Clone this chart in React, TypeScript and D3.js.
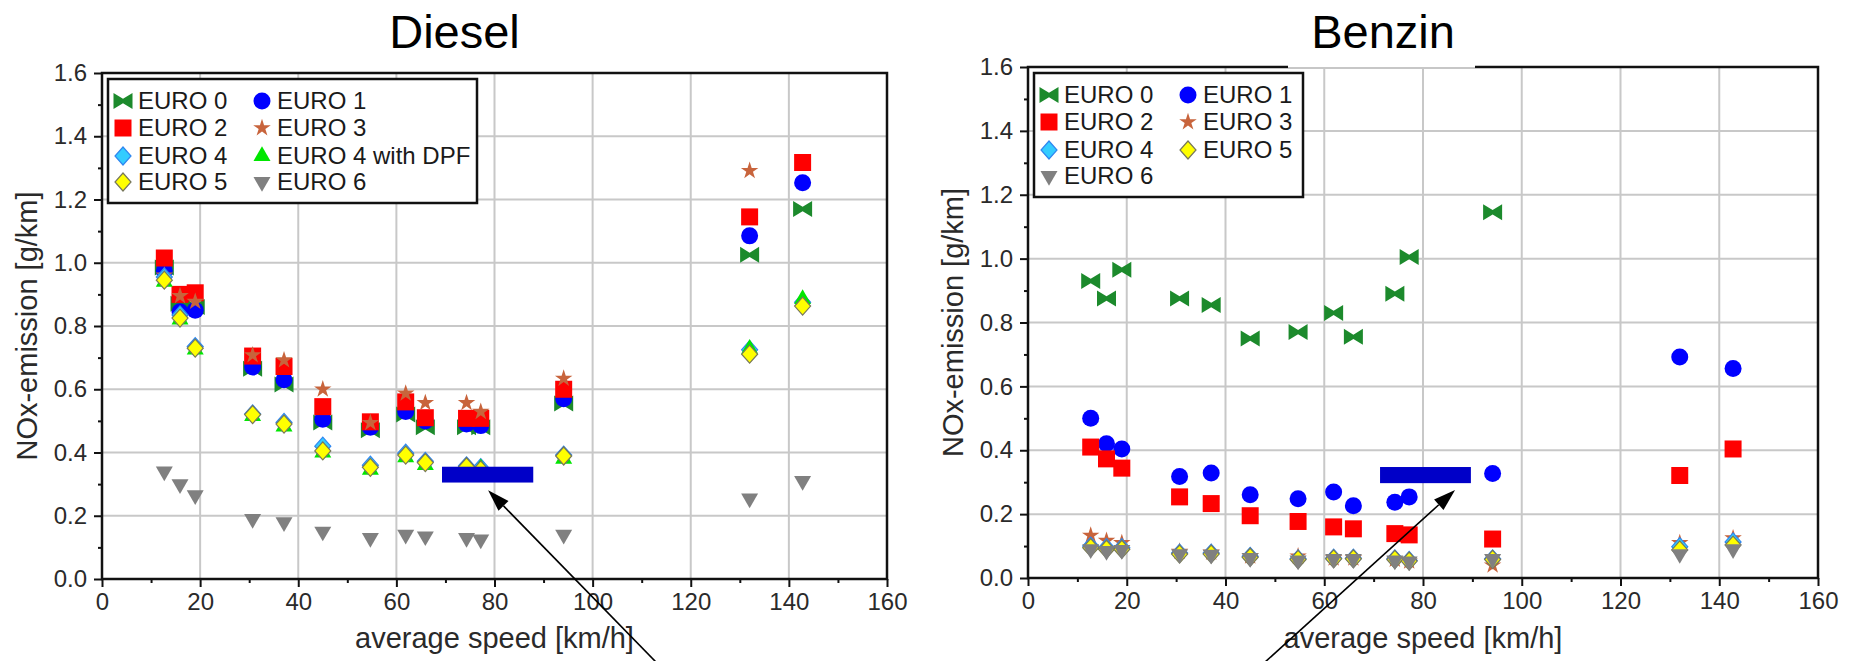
import React, { useEffect, useRef } from 'react';
import * as d3 from 'd3';

// average speed of the driving cycles [km/h]
const speeds = [12.7, 15.9, 19.0, 30.7, 37.1, 45.0, 54.7, 61.9, 65.9, 74.3, 77.2, 94.1, 132.0, 142.8];

// Diesel NOx [g/km]
const dieselEuro0 = [0.985, 0.87, 0.86, 0.665, 0.615, 0.495, 0.47, 0.52, 0.48, 0.48, 0.48, 0.555, 1.025, 1.17];
const dieselEuro1 = [0.975, 0.845, 0.85, 0.67, 0.63, 0.505, 0.48, 0.53, 0.5, 0.49, 0.485, 0.57, 1.085, 1.253];
const dieselEuro2 = [1.015, 0.9, 0.905, 0.705, 0.672, 0.545, 0.497, 0.56, 0.51, 0.508, 0.508, 0.6, 1.145, 1.317];
const dieselEuro3 = [0.96, 0.895, 0.877, 0.708, 0.692, 0.6, 0.494, 0.587, 0.557, 0.557, 0.529, 0.634, 1.291, null];
const dieselEuro4 = [0.955, 0.835, 0.735, 0.522, 0.495, 0.42, 0.36, 0.398, 0.372, 0.358, 0.352, 0.392, 0.725, 0.875];
const dieselEuro4Dpf = [0.94, 0.82, 0.725, 0.515, 0.482, 0.4, 0.345, 0.385, 0.36, 0.35, 0.35, 0.38, 0.728, 0.885];
const dieselEuro5 = [0.945, 0.825, 0.73, 0.52, 0.49, 0.405, 0.353, 0.392, 0.368, 0.355, 0.345, 0.389, 0.711, 0.863];
const dieselEuro6 = [0.34, 0.3, 0.265, 0.19, 0.18, 0.15, 0.13, 0.14, 0.135, 0.13, 0.125, 0.14, 0.255, 0.31];

// Benzin NOx [g/km]
const benzinEuro0 = [0.93, 0.875, 0.965, 0.875, 0.855, 0.75, 0.77, 0.83, 0.755, 0.89, 1.005, 1.145, null, null];
const benzinEuro1 = [0.5, 0.42, 0.404, 0.318, 0.329, 0.261, 0.248, 0.269, 0.226, 0.237, 0.254, 0.327, 0.692, 0.656];
const benzinEuro2 = [0.41, 0.373, 0.344, 0.254, 0.233, 0.195, 0.177, 0.16, 0.154, 0.139, 0.135, 0.122, 0.321, 0.404];
const benzinEuro3 = [0.133, 0.117, 0.11, 0.083, 0.08, 0.068, 0.068, 0.062, 0.062, 0.058, 0.052, 0.04, 0.11, 0.125];
const benzinEuro4 = [0.1, 0.095, 0.095, 0.078, 0.078, 0.068, 0.06, 0.062, 0.062, 0.06, 0.055, 0.06, 0.098, 0.113];
const benzinEuro5 = [0.095, 0.09, 0.09, 0.075, 0.075, 0.065, 0.058, 0.06, 0.06, 0.058, 0.053, 0.058, 0.088, 0.103];
const benzinEuro6 = [0.09, 0.085, 0.088, 0.075, 0.073, 0.063, 0.055, 0.06, 0.06, 0.055, 0.052, 0.06, 0.075, 0.09];

const xTicks = [0, 20, 40, 60, 80, 100, 120, 140, 160];
const yTicks = [0, 0.2, 0.4, 0.6, 0.8, 1.0, 1.2, 1.4, 1.6];
const xMinor = [10, 30, 50, 70, 90, 110, 130, 150];
const yMinor = [0.1, 0.3, 0.5, 0.7, 0.9, 1.1, 1.3, 1.5];

const FONT = '"Liberation Sans", Arial, Helvetica, sans-serif';

const bowtie = (w, h, s) => `M${-w},${-h}L0,${-s}L${w},${-h}L${w},${h}L0,${s}L${-w},${h}Z`;
const diamond = (w, h) => `M0,${-h}L${w},0L0,${h}L${-w},0Z`;

const markers = {
  euro0: { d: bowtie(9.5, 8, 2.2), fill: '#1c8a2c', stroke: 'none' },
  euro1: { d: d3.symbol(d3.symbolCircle, 227)(), fill: '#0000ff', stroke: 'none' },
  euro2: { d: 'M-8.5,-8.5h17v17h-17Z', fill: '#ff0000', stroke: 'none' },
  euro3: { d: d3.symbol(d3.symbolStar, 95)(), fill: '#c8643c', stroke: 'none' },
  euro4: { d: diamond(8, 9), fill: '#33ccff', stroke: '#2f86f0' },
  euro4dpf: { d: d3.symbol(d3.symbolTriangle, 125)(), fill: '#00e600', stroke: 'none' },
  euro5: { d: diamond(8, 9), fill: '#ffff00', stroke: '#77775a' },
  euro6: { d: d3.symbol(d3.symbolTriangle, 125)(), fill: '#808080', stroke: 'none', rotate: 180 },
};

const dieselSeries = [
  { name: 'EURO 0', m: 'euro0', values: dieselEuro0 },
  { name: 'EURO 1', m: 'euro1', values: dieselEuro1 },
  { name: 'EURO 2', m: 'euro2', values: dieselEuro2 },
  { name: 'EURO 3', m: 'euro3', values: dieselEuro3 },
  { name: 'EURO 4', m: 'euro4', values: dieselEuro4 },
  { name: 'EURO 4 with DPF', m: 'euro4dpf', values: dieselEuro4Dpf },
  { name: 'EURO 5', m: 'euro5', values: dieselEuro5 },
  { name: 'EURO 6', m: 'euro6', values: dieselEuro6 },
];

const benzinSeries = [
  { name: 'EURO 0', m: 'euro0', values: benzinEuro0 },
  { name: 'EURO 1', m: 'euro1', values: benzinEuro1 },
  { name: 'EURO 2', m: 'euro2', values: benzinEuro2 },
  { name: 'EURO 3', m: 'euro3', values: benzinEuro3 },
  { name: 'EURO 4', m: 'euro4', values: benzinEuro4 },
  { name: 'EURO 5', m: 'euro5', values: benzinEuro5 },
  { name: 'EURO 6', m: 'euro6', values: benzinEuro6 },
];

const panels = [
  {
    title: 'Diesel', series: dieselSeries, left: 102, right: 887, bottom: 579, top: 73, legendW: 369,
    bar: [69.3, 87.9, 0.305, 0.355], tip: [78.7, 0.281], tail: 113.1,
  },
  {
    title: 'Benzin', series: benzinSeries, left: 1028, right: 1818, bottom: 578, top: 67, legendW: 269,
    bar: [71.3, 89.7, 0.297, 0.3475], tip: [86.5, 0.2755], tail: 47.8, titleBox: [260, 447],
  },
];

const W = 1857;
const H = 661;

const drawPanel = (svg, p) => {
  const x = d3.scaleLinear().domain([0, 160]).range([p.left, p.right]);
  const y = d3.scaleLinear().domain([0, 1.6]).range([p.bottom, p.top]);
  const g = svg.append('g');

  // grid
  g.selectAll('.vgrid').data(xTicks).enter().append('line')
    .attr('x1', d => x(d)).attr('x2', d => x(d))
    .attr('y1', p.top).attr('y2', p.bottom)
    .attr('stroke', '#c8c8c8').attr('stroke-width', 2);
  g.selectAll('.hgrid').data(yTicks).enter().append('line')
    .attr('x1', p.left).attr('x2', p.right)
    .attr('y1', d => y(d)).attr('y2', d => y(d))
    .attr('stroke', '#c8c8c8').attr('stroke-width', 2);

  // frame
  g.append('rect')
    .attr('x', p.left).attr('y', p.top)
    .attr('width', p.right - p.left).attr('height', p.bottom - p.top)
    .attr('fill', 'none').attr('stroke', '#111').attr('stroke-width', 2.5);

  // axes
  const styleAxis = (sel) => {
    sel.select('.domain').remove();
    sel.selectAll('line').attr('stroke', '#111').attr('stroke-width', 2);
    sel.selectAll('text')
      .attr('font-family', FONT).attr('font-size', 24).attr('fill', '#2a2a2a');
  };
  g.append('g').attr('transform', `translate(0,${p.bottom})`)
    .call(d3.axisBottom(x).tickValues(xTicks).tickSize(8).tickPadding(6).tickFormat(d3.format('d')))
    .call(styleAxis);
  g.append('g').attr('transform', `translate(0,${p.bottom})`)
    .call(d3.axisBottom(x).tickValues(xMinor).tickSize(4).tickFormat(() => ''))
    .call(styleAxis);
  g.append('g').attr('transform', `translate(${p.left},0)`)
    .call(d3.axisLeft(y).tickValues(yTicks).tickSize(8).tickPadding(7).tickFormat(d3.format('.1f')))
    .call(styleAxis);
  g.append('g').attr('transform', `translate(${p.left},0)`)
    .call(d3.axisLeft(y).tickValues(yMinor).tickSize(4).tickFormat(() => ''))
    .call(styleAxis);

  // points
  p.series.forEach(s => {
    const mk = markers[s.m];
    const pts = speeds.map((v, i) => [v, s.values[i]]).filter(d => d[1] != null);
    g.selectAll(null).data(pts).enter().append('path')
      .attr('d', mk.d)
      .attr('transform', d => `translate(${x(d[0])},${y(d[1])})${mk.rotate ? ` rotate(${mk.rotate})` : ''}`)
      .attr('fill', mk.fill)
      .attr('stroke', mk.stroke)
      .attr('stroke-width', 1.2);
  });

  // legend
  const lg = g.append('g').attr('transform', `translate(${p.left + 6},${p.top + 6})`);
  lg.append('rect')
    .attr('width', p.legendW).attr('height', 124)
    .attr('fill', '#fff').attr('stroke', '#111').attr('stroke-width', 2.5);
  const rows = [22, 49, 77, 103];
  p.series.forEach((s, i) => {
    const mk = markers[s.m];
    const col = i % 2;
    const row = Math.floor(i / 2);
    const mx = col === 0 ? 15 : 154;
    const item = lg.append('g').attr('transform', `translate(${mx},${rows[row]})`);
    item.append('path')
      .attr('d', mk.d)
      .attr('transform', mk.rotate ? `rotate(${mk.rotate})` : null)
      .attr('fill', mk.fill).attr('stroke', mk.stroke).attr('stroke-width', 1.2);
    item.append('text')
      .attr('x', 15).attr('dy', '0.35em')
      .attr('font-family', FONT).attr('font-size', 24).attr('fill', '#1a1a1a')
      .text(s.name);
  });

  // white box behind the title
  if (p.titleBox) {
    g.append('rect')
      .attr('x', p.left + p.titleBox[0]).attr('y', 6)
      .attr('width', p.titleBox[1] - p.titleBox[0]).attr('height', p.top + 2 - 6)
      .attr('fill', '#fff');
    g.append('line')
      .attr('x1', p.left + p.titleBox[0]).attr('x2', p.left + p.titleBox[1])
      .attr('y1', p.top + 1).attr('y2', p.top + 1)
      .attr('stroke', '#b4b4b4').attr('stroke-width', 1.5);
  }

  // title
  g.append('text')
    .attr('x', (p.left + p.right) / 2 - 40).attr('y', 48)
    .attr('text-anchor', 'middle')
    .attr('font-family', FONT).attr('font-size', 47).attr('fill', '#000')
    .text(p.title);

  // axis labels
  g.append('text')
    .attr('x', (p.left + p.right) / 2).attr('y', 648)
    .attr('text-anchor', 'middle')
    .attr('font-family', FONT).attr('font-size', 29).attr('fill', '#2a2a2a')
    .text('average speed [km/h]');
  g.append('text')
    .attr('transform', `translate(${p.left - 65},${(p.top + p.bottom) / 2}) rotate(-90)`)
    .attr('text-anchor', 'middle')
    .attr('font-family', FONT).attr('font-size', 29).attr('fill', '#2a2a2a')
    .text('NOx-emission [g/km]');

  // annotation: blue bar and arrow
  g.append('rect')
    .attr('x', x(p.bar[0])).attr('y', y(p.bar[3]))
    .attr('width', x(p.bar[1]) - x(p.bar[0])).attr('height', y(p.bar[2]) - y(p.bar[3]))
    .attr('fill', '#0000c8');
  const tx = x(p.tip[0]);
  const ty = y(p.tip[1]);
  const sx = x(p.tail);
  const sy = H + 2;
  const ang = Math.atan2(ty - sy, tx - sx);
  const len = 22;
  const half = 7;
  const bx = tx - len * Math.cos(ang);
  const by = ty - len * Math.sin(ang);
  g.append('line')
    .attr('x1', sx).attr('y1', sy).attr('x2', bx).attr('y2', by)
    .attr('stroke', '#000').attr('stroke-width', 1.6);
  g.append('path')
    .attr('d', `M${tx},${ty}L${bx + half * Math.sin(ang)},${by - half * Math.cos(ang)}L${bx - half * Math.sin(ang)},${by + half * Math.cos(ang)}Z`)
    .attr('fill', '#000');
};

const App = () => {
  const ref = useRef(null);

  useEffect(() => {
    const svg = d3.select(ref.current);
    svg.selectAll('*').remove();
    svg.append('rect').attr('width', W).attr('height', H).attr('fill', '#fff');
    panels.forEach(p => drawPanel(svg, p));
  }, []);

  return (
    <svg
      ref={ref}
      width={W}
      height={H}
      style={{ position: 'absolute', left: 0, top: 0, display: 'block' }}
    />
  );
};

export default App;
